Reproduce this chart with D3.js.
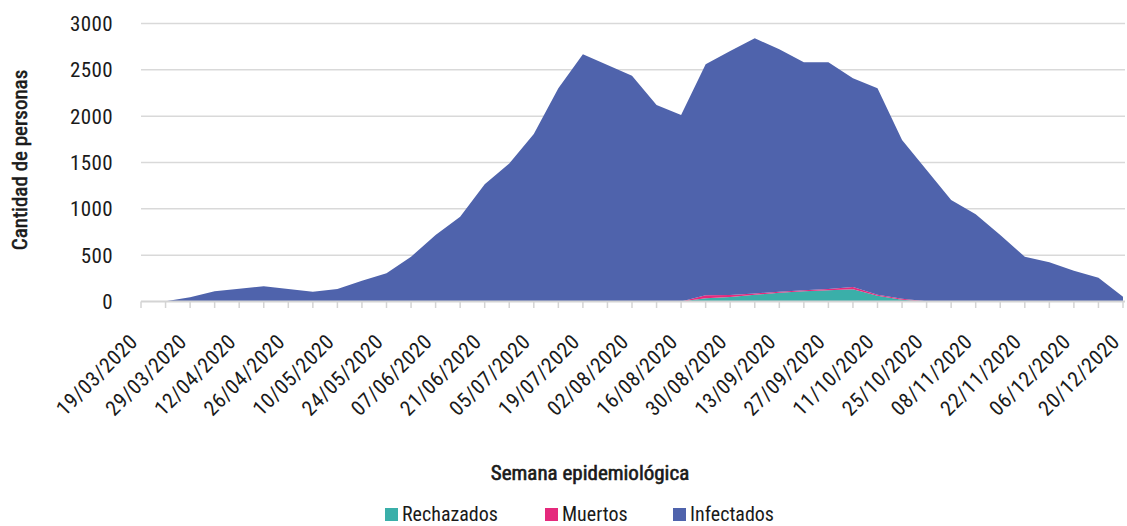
<!DOCTYPE html>
<html>
<head>
<meta charset="utf-8">
<script src="https://cdn.jsdelivr.net/npm/d3@7"></script>
<style>
  body { margin: 0; background: #fff; }
  svg text { font-family: "Liberation Sans Narrow", "Roboto Condensed", "Liberation Sans", sans-serif; fill: #1a1a1a; }
</style>
</head>
<body>
<div id="chart"></div>
<script>
// Weekly categories (epidemiological weeks)
var weeks = ["19/03/2020", "22/03/2020", "29/03/2020", "05/04/2020", "12/04/2020", "19/04/2020", "26/04/2020",
    "03/05/2020", "10/05/2020", "17/05/2020", "24/05/2020", "31/05/2020", "07/06/2020", "14/06/2020",
    "21/06/2020", "28/06/2020", "05/07/2020", "12/07/2020", "19/07/2020", "26/07/2020", "02/08/2020",
    "09/08/2020", "16/08/2020", "23/08/2020", "30/08/2020", "06/09/2020", "13/09/2020", "20/09/2020",
    "27/09/2020", "04/10/2020", "11/10/2020", "18/10/2020", "25/10/2020", "01/11/2020", "08/11/2020",
    "15/11/2020", "22/11/2020", "29/11/2020", "06/12/2020", "13/12/2020", "20/12/2020"];

var rechazados = [0, 0, 0, 0, 0, 0, 0, 0, 0, 0, 0, 0, 0, 0, 0, 0, 2, 2, 2, 2, 2,
    2, 0, 35, 49, 72, 95, 110, 121, 132, 62, 18, 0, 0, 0, 0, 0, 0, 0, 0, 0];

var muertos = [0, 0, 0, 0, 0, 0, 0, 0, 0, 0, 0, 0, 0, 2, 3, 3, 2, 0, 0, 0, 0,
    0, 0, 32, 21, 14, 11, 11, 14, 25, 11, 11, 3, 0, 0, 0, 0, 0, 0, 0, 0];

var infectados = [0, 3, 45, 110, 138, 165, 135, 105, 135, 224, 304, 483, 718, 913, 1262, 1486, 1803, 2298, 2665, 2550, 2434,
    2118, 2012, 2492, 2633, 2754, 2615, 2460, 2446, 2251, 2227, 1714, 1416, 1095, 941, 718, 483, 423, 332, 257, 50];

var yTicks = [0, 500, 1000, 1500, 2000, 2500, 3000];

var seriesNames = ["Rechazados", "Muertos", "Infectados"];
var seriesColors = ["#3aafa9", "#e5297c", "#4f63ac"];

var w = 1127, h = 526;

var table = weeks.map(function(wk, i) {
    return { week: wk, Rechazados: rechazados[i], Muertos: muertos[i], Infectados: infectados[i] };
});

var stack = d3.stack().keys(seriesNames);
var series = stack(table);

var xScale = d3.scalePoint()
    .domain(weeks)
    .range([141, 1123]);

var yScale = d3.scaleLinear()
    .domain([0, 3000])
    .range([301.5, 23.5]);

var color = d3.scaleOrdinal().domain(seriesNames).range(seriesColors);

var svg = d3.select("#chart")
    .append("svg")
    .attr("width", w)
    .attr("height", h);

// Gridlines
svg.append("g")
    .selectAll("line")
    .data(yTicks.slice(1))
    .enter()
    .append("line")
    .attr("x1", 141)
    .attr("x2", 1125)
    .attr("y1", d => yScale(d))
    .attr("y2", d => yScale(d))
    .attr("stroke", "#d9d9d9")
    .attr("stroke-width", 1.5);

// Stacked areas
var area = d3.area()
    .x(d => xScale(d.data.week))
    .y0(d => yScale(d[0]))
    .y1(d => yScale(d[1]));

svg.append("g")
    .selectAll("path")
    .data(series)
    .enter()
    .append("path")
    .attr("fill", d => color(d.key))
    .attr("d", area);

// X axis line and ticks
var xAxis = svg.append("g");
xAxis.append("line")
    .attr("x1", 141)
    .attr("x2", 1125)
    .attr("y1", 301.5)
    .attr("y2", 301.5)
    .attr("stroke", "#d4d4d4")
    .attr("stroke-width", 2);

xAxis.selectAll(".tick")
    .data(weeks)
    .enter()
    .append("line")
    .attr("x1", d => xScale(d))
    .attr("x2", d => xScale(d))
    .attr("y1", 301.5)
    .attr("y2", 308)
    .attr("stroke", "#d4d4d4")
    .attr("stroke-width", 1.5);

// X tick labels, every other week
xAxis.selectAll("text")
    .data(weeks.filter((d, i) => i % 2 === 0))
    .enter()
    .append("text")
    .attr("transform", d => `translate(${xScale(d) - 2},${343}) rotate(-45)`)
    .attr("text-anchor", "end")
    .style("font-size", "21px")
    .style("letter-spacing", "0.6px")
    .text(d => d);

// Y tick labels
svg.append("g")
    .selectAll("text")
    .data(yTicks)
    .enter()
    .append("text")
    .attr("x", 113)
    .attr("y", d => yScale(d))
    .attr("dy", "0.35em")
    .attr("text-anchor", "end")
    .style("font-size", "21px")
    .style("letter-spacing", "0.4px")
    .text(d => d);

// Axis titles
svg.append("text")
    .attr("transform", "translate(27,160) rotate(-90)")
    .attr("text-anchor", "middle")
    .style("font-size", "21px")
    .style("stroke", "#1a1a1a")
    .style("stroke-width", "0.6px")
    .text("Cantidad de personas");

svg.append("text")
    .attr("x", 590)
    .attr("y", 480)
    .attr("text-anchor", "middle")
    .style("font-size", "21px")
    .style("stroke", "#1a1a1a")
    .style("stroke-width", "0.6px")
    .text("Semana epidemiológica");

// Legend
var legendX = [385, 545, 673];
var legend = svg.append("g")
    .selectAll("g")
    .data(seriesNames)
    .enter()
    .append("g")
    .attr("transform", (d, i) => `translate(${legendX[i]},508)`);

legend.append("rect")
    .attr("width", 13)
    .attr("height", 13)
    .attr("fill", d => color(d));

legend.append("text")
    .attr("x", 17)
    .attr("y", 13)
    .style("font-size", "20px")
    .text(d => d);
</script>
</body>
</html>
